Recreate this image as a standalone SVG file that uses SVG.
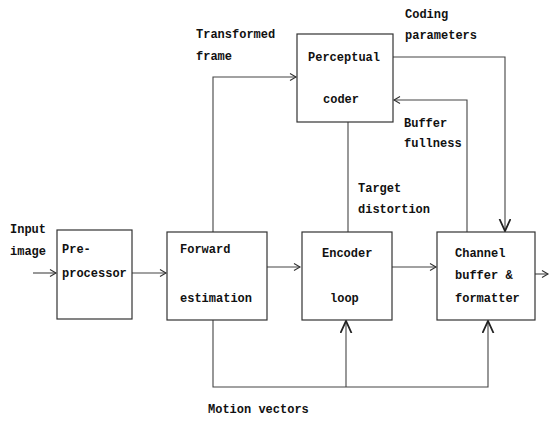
<svg xmlns="http://www.w3.org/2000/svg" width="550" height="421" viewBox="0 0 550 421">
<style>
.box{fill:#fff;stroke:#333;stroke-width:1.2}
.ln{fill:none;stroke:#444;stroke-width:1.1}
text{font-family:"Liberation Mono","DejaVu Sans Mono",monospace;font-size:12px;fill:#111;font-weight:bold}
</style>
<defs>
<marker id="chev" markerUnits="userSpaceOnUse" markerWidth="10" markerHeight="10" refX="7" refY="4" orient="auto">
<path d="M1,0.5 L7,4 L1,7.5" fill="none" stroke="#333" stroke-width="1.1"/>
</marker>
<marker id="vee" markerUnits="userSpaceOnUse" markerWidth="16" markerHeight="14" refX="12" refY="6" orient="auto">
<path d="M0,0.5 L12,6 L0,11.5" fill="none" stroke="#222" stroke-width="1.8"/>
</marker>
</defs>
<rect width="550" height="421" fill="#fff"/>
<g id="connectors">
<path class="ln" d="M33,273 L56,273" marker-end="url(#chev)"/>
<path class="ln" d="M132,273 L166,273" marker-end="url(#chev)"/>
<path class="ln" d="M267,267 L300,267" marker-end="url(#chev)"/>
<path class="ln" d="M392,267 L436,267" marker-end="url(#chev)"/>
<path class="ln" d="M535,274 L548,274" marker-end="url(#chev)"/>
<path class="ln" d="M213,232 L213,77 L296,77" marker-end="url(#chev)"/>
<path class="ln" d="M348,122 L348,232"/>
<path class="ln" d="M393,57 L505,57 L505,231" marker-end="url(#vee)"/>
<path class="ln" d="M467,232 L467,100 L394,100" marker-end="url(#chev)"/>
<path class="ln" d="M213,320 L213,387 L488,387 L488,321" marker-end="url(#vee)"/>
<path class="ln" d="M346,387 L346,321" marker-end="url(#vee)"/>
</g>
<g id="preprocessor">
<rect class="box" x="57" y="230" width="75" height="89"/>
<text x="62" y="253">Pre-</text>
<text x="62" y="277">processor</text>
</g>
<g id="forward">
<rect class="box" x="167" y="232" width="100" height="88"/>
<text x="180" y="253">Forward</text>
<text x="180" y="302">estimation</text>
</g>
<g id="encoder">
<rect class="box" x="302" y="232" width="90" height="88"/>
<text x="322" y="257">Encoder</text>
<text x="330" y="302">loop</text>
</g>
<g id="channel">
<rect class="box" x="437" y="232" width="98" height="88"/>
<text x="455" y="257">Channel</text>
<text x="455" y="279">buffer &amp;</text>
<text x="455" y="302">formatter</text>
</g>
<g id="perceptual">
<rect class="box" x="297" y="34" width="96" height="88"/>
<text x="308" y="61">Perceptual</text>
<text x="323" y="103">coder</text>
</g>
<g id="labels">
<text x="10" y="233">Input</text>
<text x="10" y="255">image</text>
<text x="196" y="38">Transformed</text>
<text x="196" y="60">frame</text>
<text x="405" y="18">Coding</text>
<text x="405" y="39">parameters</text>
<text x="404" y="127">Buffer</text>
<text x="404" y="147">fullness</text>
<text x="358" y="192">Target</text>
<text x="358" y="213">distortion</text>
<text x="208" y="413">Motion vectors</text>
</g>
</svg>
